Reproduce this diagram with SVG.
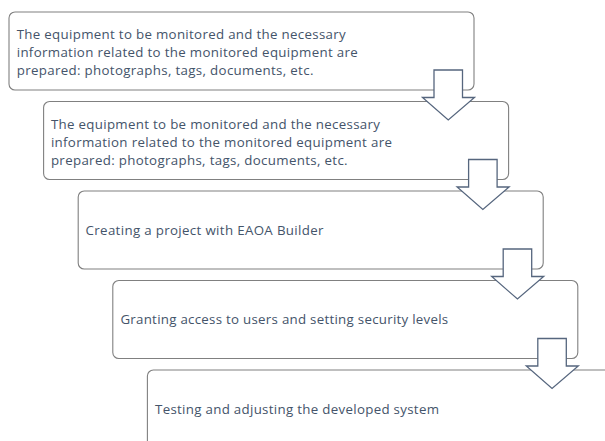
<svg xmlns="http://www.w3.org/2000/svg" width="605" height="441" viewBox="0 0 605 441">
<style>
.box{fill:#ffffff;stroke:#808080;stroke-width:1.1}
.t{font-family:"Open Sans","Liberation Sans",sans-serif;font-size:13.3px;fill:#44546a}
.arr{fill:#ffffff;stroke:#56667e;stroke-width:1.3;stroke-linejoin:miter}
</style>
<rect width="605" height="441" fill="#ffffff"/>
<g id="step1">
<rect class="box" x="9" y="12" width="465" height="78" rx="6"/>
<text class="t" x="16.7" y="39.3" textLength="329">The equipment to be monitored and the necessary</text>
<text class="t" x="16.7" y="57.3" textLength="341">information related to the monitored equipment are</text>
<text class="t" x="16.7" y="75.3" textLength="296.7">prepared: photographs, tags, documents, etc.</text>
</g>
<g id="step2">
<rect class="box" x="43.6" y="101.5" width="465" height="78" rx="6"/>
<text class="t" x="50.9" y="128.6" textLength="329">The equipment to be monitored and the necessary</text>
<text class="t" x="50.9" y="146.6" textLength="341">information related to the monitored equipment are</text>
<text class="t" x="50.9" y="164.6" textLength="296.7">prepared: photographs, tags, documents, etc.</text>
</g>
<g id="step3">
<rect class="box" x="78.2" y="191" width="465" height="78" rx="6"/>
<text class="t" x="85.6" y="235" textLength="237.8">Creating a project with EAOA Builder</text>
</g>
<g id="step4">
<rect class="box" x="112.8" y="280.5" width="465" height="78" rx="6"/>
<text class="t" x="120.4" y="324.4" textLength="327.8">Granting access to users and setting security levels</text>
</g>
<g id="step5">
<rect class="box" x="147.4" y="370" width="465" height="78" rx="6"/>
<text class="t" x="155" y="414" textLength="284">Testing and adjusting the developed system</text>
</g>
<g id="connectors">
<polygon class="arr" points="434,70 462.5,70 462.5,97.5 474.5,97.5 448.25,120 422.5,97.5 434,97.5"/>
<polygon class="arr" points="468.6,159.5 497.1,159.5 497.1,187 509.1,187 482.85,209.5 457.1,187 468.6,187"/>
<polygon class="arr" points="503.2,249 531.7,249 531.7,276.5 543.7,276.5 517.45,299 491.7,276.5 503.2,276.5"/>
<polygon class="arr" points="537.8,338.5 566.3,338.5 566.3,366 578.3,366 552.05,388.5 526.3,366 537.8,366"/>
</g>
</svg>
